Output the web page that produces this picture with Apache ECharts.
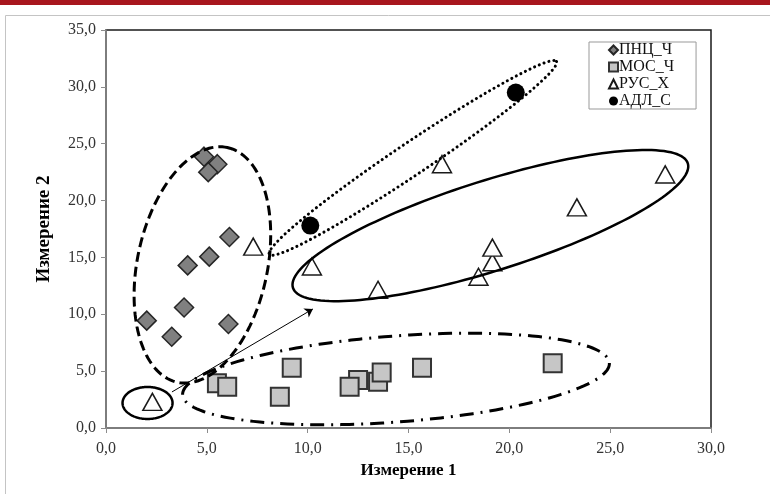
<!DOCTYPE html>
<html>
<head>
<meta charset="utf-8">
<script src="https://cdn.jsdelivr.net/npm/echarts@6/dist/echarts.min.js"></script>
<style>html,body{margin:0;padding:0;background:#fff;}#c{width:770px;height:494px;}</style>
</head>
<body>
<div id="c"></div>
<script>
// ---- data ----
const seriesNames = ['ПНЦ_Ч', 'МОС_Ч', 'РУС_Х', 'АДЛ_С'];
const pncX = [4.86, 5.52, 5.07, 6.12, 5.12, 4.05, 3.87, 2.02, 3.26, 6.07];
const pncY = [23.86, 23.2, 22.5, 16.8, 15.07, 14.3, 10.6, 9.44, 8.03, 9.15];
const mosX = [5.5, 6.01, 9.21, 8.62, 12.5, 12.08, 13.49, 13.67, 15.67, 22.15];
const mosY = [3.93, 3.63, 5.3, 2.75, 4.22, 3.63, 4.07, 4.87, 5.3, 5.69];
const rusX = [2.3, 7.3, 10.21, 13.49, 16.66, 18.47, 19.16, 19.16, 23.35, 27.73];
const rusY = [2.3, 15.95, 14.2, 12.16, 23.2, 13.3, 14.57, 15.86, 19.4, 22.3];
const adlX = [10.13, 20.32];
const adlY = [17.8, 29.5];
const xTicks = [0, 5, 10, 15, 20, 25, 30];
const yTicks = [0, 5, 10, 15, 20, 25, 30, 35];
const xName = 'Измерение 1';
const yName = 'Измерение 2';

// ---- annotations (hand-drawn shapes on the chart) ----
const ellipses = [
  {cx: 4.78, cy: 14.34, a: 120, b: 65, angle: 78, w: 3, dash: [10, 5], cap: 'butt'},
  {cx: 15.22, cy: 23.75, a: 173, b: 16, angle: 33.9, w: 3, dash: [0.1, 5], cap: 'round'},
  {cx: 19.06, cy: 17.8, a: 207, b: 45, angle: 17.5, w: 2.5, dash: null, cap: 'butt'},
  {cx: 14.38, cy: 4.31, a: 214, b: 43, angle: 4.3, w: 3, dash: [14, 7, 2, 7], cap: 'butt'},
  {cx: 2.06, cy: 2.2, a: 25, b: 16, angle: 0, w: 2.5, dash: null, cap: 'butt'}
];
const arrowFrom = [3.27, 3.17];
const arrowTo = [10.26, 10.47];

const zip = (xs, ys) => xs.map((x, i) => [x, ys[i]]);
const fmt = v => v.toFixed(1).replace('.', ',');
const serif = 'Liberation Serif';

function renderEllipse(params, api) {
  const e = ellipses[params.dataIndex];
  const c = api.coord([api.value(0), api.value(1)]);
  const t = e.angle * Math.PI / 180;
  const pts = [];
  for (let i = 0; i < 160; i++) {
    const s = i / 160 * 2 * Math.PI;
    const u = e.a * Math.cos(s), v = e.b * Math.sin(s);
    pts.push([c[0] + u * Math.cos(t) + v * Math.sin(t), c[1] - u * Math.sin(t) + v * Math.cos(t)]);
  }
  return {
    type: 'polygon',
    shape: {points: pts},
    style: {fill: 'none', stroke: '#000', lineWidth: e.w, lineDash: e.dash, lineCap: e.cap}
  };
}

const chart = echarts.init(document.getElementById('c'), null, {renderer: 'canvas'});
chart.setOption({
  backgroundColor: '#fff',
  animation: false,
  graphic: [
    {type: 'rect', shape: {x: 0, y: 0, width: 770, height: 5}, style: {fill: '#a8161e'}, z: 100},
    {type: 'rect', shape: {x: 5.5, y: 15.5, width: 800, height: 500}, style: {fill: 'none', stroke: '#c4c4c4', lineWidth: 1}}
  ],
  grid: {left: 106, top: 30, right: 59, bottom: 66, show: true, borderColor: '#1a1a1a', borderWidth: 1.5, backgroundColor: '#fff'},
  legend: {
    data: seriesNames,
    orient: 'vertical',
    left: 589, top: 42,
    padding: [0, 22, 0, 19],
    itemGap: 1,
    itemWidth: 9, itemHeight: 9,
    borderColor: '#999', borderWidth: 1,
    backgroundColor: '#fff',
    textStyle: {fontFamily: serif, fontSize: 16, color: '#111', lineHeight: 14, padding: [0, 0, 0, -4]}
  },
  xAxis: {
    type: 'value', min: 0, max: 30, interval: 5,
    name: xName, nameLocation: 'middle', nameGap: 27,
    nameTextStyle: {fontFamily: serif, fontSize: 17, fontWeight: 'bold', color: '#000'},
    axisLine: {show: true, onZero: false, lineStyle: {color: '#8c8c8c', width: 1.5}},
    axisTick: {show: true, length: 5, lineStyle: {color: '#8c8c8c'}},
    axisLabel: {fontFamily: serif, fontSize: 16, color: '#333', margin: 13, formatter: v => xTicks.includes(v) ? fmt(v) : ''},
    splitLine: {show: false}
  },
  yAxis: {
    type: 'value', min: 0, max: 35, interval: 5,
    name: yName, nameLocation: 'middle', nameGap: 52,
    nameTextStyle: {fontFamily: serif, fontSize: 19, fontWeight: 'bold', color: '#000'},
    axisLine: {show: true, onZero: false, lineStyle: {color: '#8c8c8c', width: 1.5}},
    axisTick: {show: true, length: 5, lineStyle: {color: '#8c8c8c'}},
    axisLabel: {fontFamily: serif, fontSize: 16, color: '#333', margin: 10, formatter: v => yTicks.includes(v) ? fmt(v) : ''},
    splitLine: {show: false}
  },
  series: [
    {name: seriesNames[0], type: 'scatter', symbol: 'diamond', symbolSize: 19, data: zip(pncX, pncY),
      itemStyle: {color: '#808080', borderColor: '#262626', borderWidth: 1.5, opacity: 1}, z: 3},
    {name: seriesNames[1], type: 'scatter', symbol: 'rect', symbolSize: 18, data: zip(mosX, mosY),
      itemStyle: {color: '#c6c6c6', borderColor: '#333', borderWidth: 2, opacity: 1}, z: 3},
    {name: seriesNames[2], type: 'scatter', symbol: 'triangle', symbolSize: [19, 17], data: zip(rusX, rusY),
      itemStyle: {color: '#fff', borderColor: '#1a1a1a', borderWidth: 1.5, opacity: 1}, z: 3},
    {name: seriesNames[3], type: 'scatter', symbol: 'circle', symbolSize: 18, data: zip(adlX, adlY),
      itemStyle: {color: '#000', borderColor: '#000', borderWidth: 0, opacity: 1}, z: 3},
    {name: 'ellipses', type: 'custom', renderItem: renderEllipse, data: ellipses.map(e => [e.cx, e.cy]),
      silent: true, z: 5, clip: false},
    {name: 'arrow', type: 'lines', coordinateSystem: 'cartesian2d', silent: true, z: 5,
      symbol: ['none', 'arrow'], symbolSize: 8,
      lineStyle: {color: '#000', width: 1, opacity: 1},
      data: [{coords: [arrowFrom, arrowTo]}]}
  ]
});
</script>
</body>
</html>
